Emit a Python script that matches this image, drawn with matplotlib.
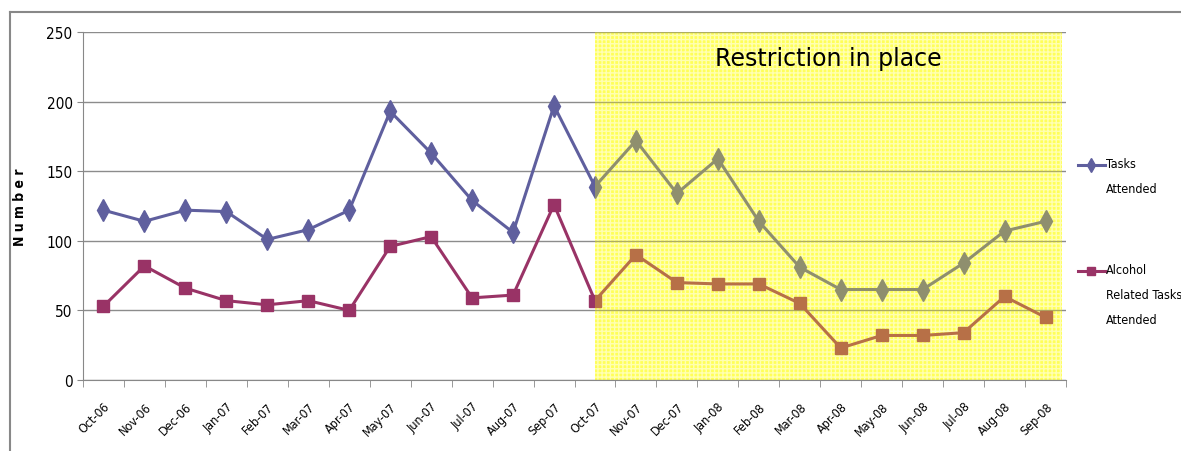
import numpy as np
import matplotlib.pyplot as plt
from matplotlib.patches import Rectangle

months = ['Oct-06', 'Nov-06', 'Dec-06', 'Jan-07', 'Feb-07', 'Mar-07', 'Apr-07',
          'May-07', 'Jun-07', 'Jul-07', 'Aug-07', 'Sep-07', 'Oct-07', 'Nov-07',
          'Dec-07', 'Jan-08', 'Feb-08', 'Mar-08', 'Apr-08', 'May-08', 'Jun-08',
          'Jul-08', 'Aug-08', 'Sep-08']
tasks = [122, 114, 122, 121, 101, 108, 122, 193, 163, 129, 106, 197,
         139, 172, 134, 159, 114, 81, 65, 65, 65, 84, 107, 114]
alcohol = [53, 82, 66, 57, 54, 57, 50, 96, 103, 59, 61, 126,
           57, 90, 70, 69, 69, 55, 23, 32, 32, 34, 60, 45]
restrict_start = 'Oct-07'

plt.rcParams['font.family'] = ['DejaVu Sans']
plt.rcParams['font.stretch'] = 'condensed'
plt.rcParams['hatch.linewidth'] = 1.0

fig = plt.figure(figsize=(11.81, 4.52), dpi=100)
ax = fig.add_axes([83/1181, 1 - 381/452, (1066 - 83)/1181, (381 - 33)/452])

c_tasks = '#5f5f9e'
c_alc = '#993366'
x = np.arange(len(months))
ax.plot(x, tasks, color=c_tasks, lw=2.2, marker='d', ms=11, zorder=3)
ax.plot(x, alcohol, color=c_alc, lw=2.2, marker='s', ms=8, zorder=3)

# shaded restriction period: yellow below, translucent yellow above the lines
s = months.index(restrict_start)
w = len(months) - 0.6 - s
ax.add_patch(Rectangle((s, 0), w, 250, facecolor='#ffff80', edgecolor='white',
                       hatch='++++', lw=0, zorder=0.2))
ax.add_patch(Rectangle((s, 0), w, 250, facecolor='#ffff00',
                       alpha=0.3, edgecolor='none', zorder=4))
ax.text(s + w / 2, 231, 'Restriction in place', ha='center',
        va='center', fontsize=17, fontstretch='normal', zorder=5)

ax.set_xlim(-0.5, len(months) - 0.5)
ax.set_ylim(0, 250)
ax.set_yticks(range(0, 251, 50))
ax.yaxis.grid(True, color='#8c8c8c', lw=1)
ax.set_axisbelow(True)
ax.set_xticks(x)
ax.set_xticklabels(months, rotation=45, ha='right', rotation_mode='anchor', fontsize=9)
ax.set_xticks(np.arange(-0.5, len(months), 1), minor=True)
ax.tick_params(axis='x', which='major', length=0, pad=14)
ax.tick_params(axis='x', which='minor', length=5, color='#888888')
ax.tick_params(axis='y', length=4, color='#888888', labelsize=11)
for sp in ['top', 'right']:
    ax.spines[sp].set_visible(False)
for sp in ['left', 'bottom']:
    ax.spines[sp].set_color('#888888')
ax.set_ylabel('N u m b e r', fontsize=10, fontweight='bold', labelpad=14)

# legend, Excel style: key beside the first line of each label
W, H = 1181, 452
legend_items = [('Tasks\nAttended', c_tasks, 'd', 7, 166),
                ('Alcohol\nRelated Tasks\nAttended', c_alc, 's', 6, 272)]
for label, col, mk, size, ypx in legend_items:
    yy = 1 - ypx / H
    fig.add_artist(plt.Line2D([1078 / W, 1105 / W], [yy, yy], color=col, lw=2.2))
    fig.add_artist(plt.Line2D([1091 / W], [yy], color=col, marker=mk, ms=size))
    fig.text(1106 / W, 1 - (ypx - 8) / H, label, fontsize=9, va='top',
             linespacing=2.2)

# outer chart frame
fig.add_artist(plt.Line2D([10/W, 1], [1 - 13/H, 1 - 13/H], color='#888888', lw=1.5))
fig.add_artist(plt.Line2D([10/W, 10/W], [0, 1 - 13/H], color='#888888', lw=1.5))

fig.savefig('out.png', dpi=100)
